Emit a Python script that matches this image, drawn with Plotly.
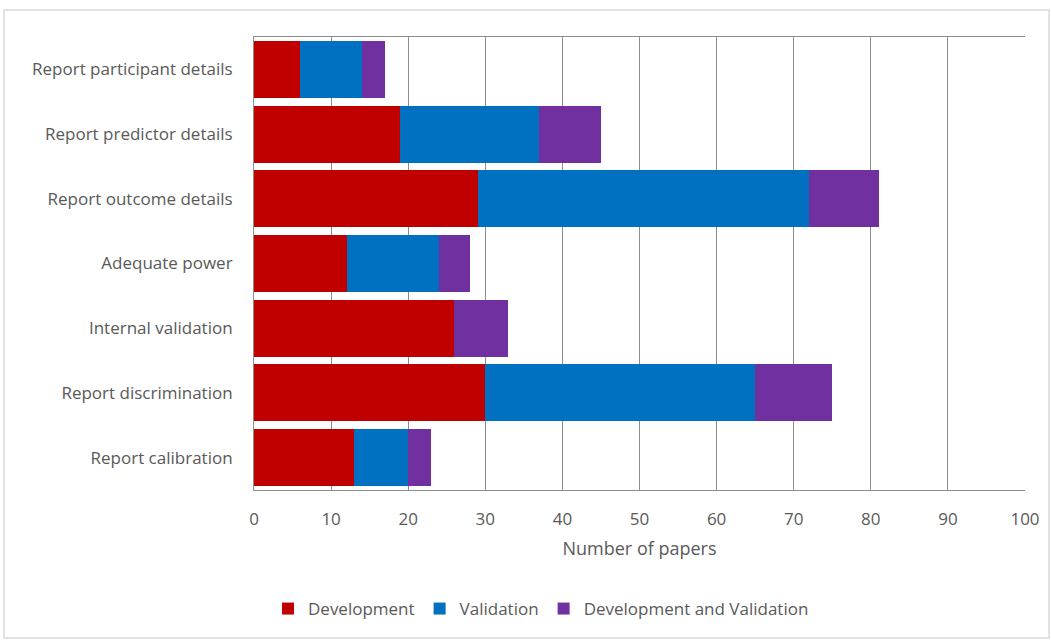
import plotly.graph_objects as go

categories = ["Report participant details", "Report predictor details", "Report outcome details",
              "Adequate power", "Internal validation", "Report discrimination", "Report calibration"]
development = [6, 19, 29, 12, 26, 30, 13]
validation = [8, 18, 43, 12, 0, 35, 7]
dev_and_val = [3, 8, 9, 4, 7, 10, 3]
x_ticks = [0, 10, 20, 30, 40, 50, 60, 70, 80, 90, 100]

font_family = "Open Sans, Roboto, sans-serif"
txt = "#595959"

fig = go.Figure()
for name, vals, col in [("Development", development, "#C00000"),
                        ("Validation", validation, "#0070C0"),
                        ("Development and Validation", dev_and_val, "#7030A0")]:
    fig.add_trace(go.Bar(y=categories, x=vals, name=name, orientation="h",
                         marker=dict(color=col, line=dict(width=0)), width=0.88))

W, H = 1051, 641
l, r, t, b = 254, 26, 37, 151
pw, ph = W - l - r, H - t - b

def px(x):
    return (x - l) / pw

def py(y):
    return (H - b - y) / ph

fig.update_layout(
    width=W, height=H, barmode="stack",
    margin=dict(l=l, r=r, t=t, b=b, pad=0),
    paper_bgcolor="white", plot_bgcolor="white",
    font=dict(family=font_family, size=16, color=txt),
    xaxis=dict(range=[0, 100], tickvals=x_ticks, showgrid=True, gridcolor="#8c8c8c", gridwidth=1,
               showline=True, linecolor="#8c8c8c", mirror=True, zeroline=False,
               ticks="", ticklabelstandoff=14, tickfont=dict(size=17, color=txt),
               title=dict(text="Number of papers", font=dict(size=18, color=txt), standoff=12)),
    yaxis=dict(autorange="reversed", showline=True, linecolor="#8c8c8c", ticks="",
               showgrid=False, ticklabelstandoff=17, tickfont=dict(size=17, color=txt)),
    legend=dict(orientation="h", x=px(541), xanchor="center", y=py(609), yanchor="middle",
                font=dict(size=17, color=txt), traceorder="normal", itemwidth=30),
    bargap=0.12,
    shapes=[dict(type="rect", xref="paper", yref="paper", x0=px(4), x1=px(1049), y0=py(638), y1=py(10),
                 line=dict(color="#d9d9d9", width=1.5), fillcolor="rgba(0,0,0,0)", layer="below")],
)
fig.write_html("out.html")
